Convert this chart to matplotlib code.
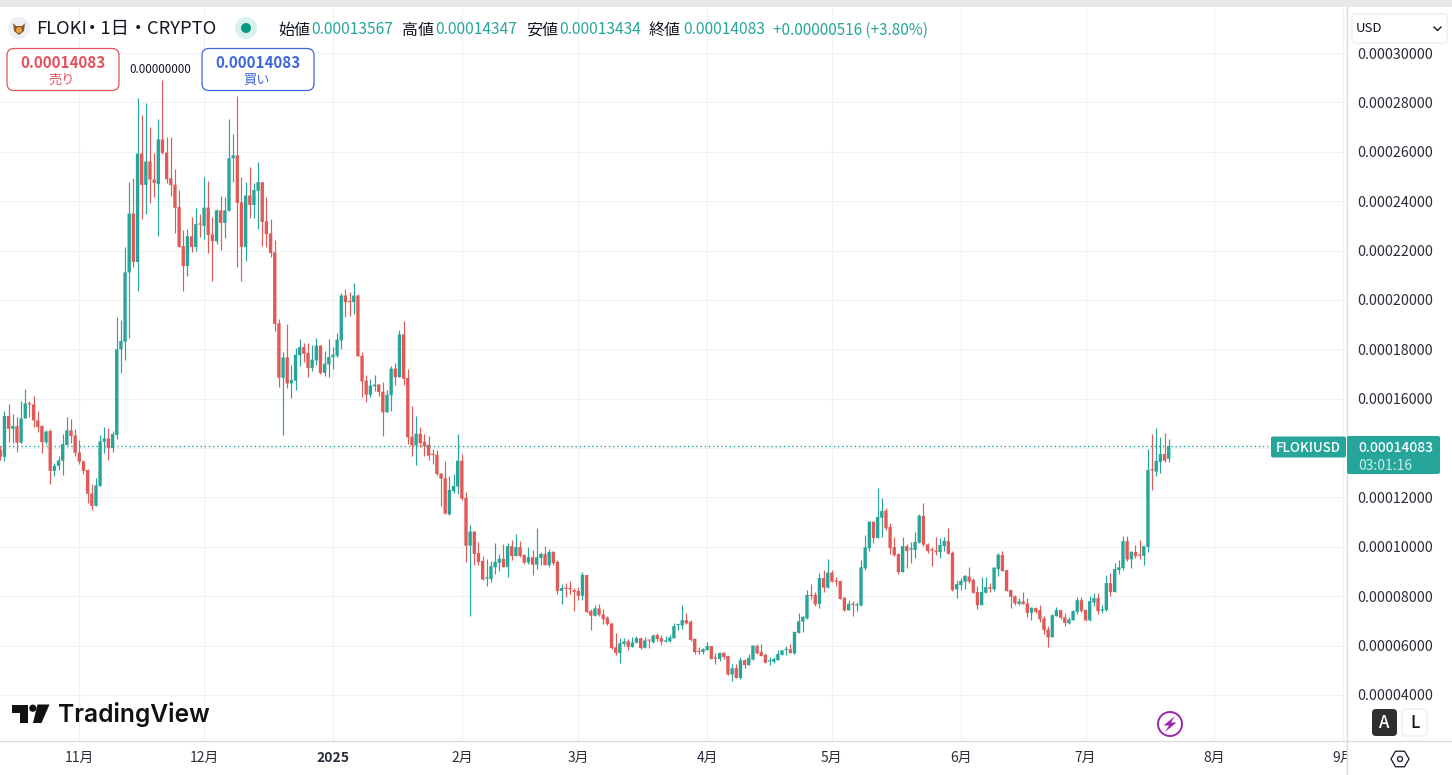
#!/usr/bin/env python3
# FLOKI / USD daily candles, TradingView style
import numpy as np
import pandas as pd
import matplotlib
matplotlib.use("Agg")
from matplotlib import pyplot as plt
from matplotlib import dates as mdates
from matplotlib.patches import FancyBboxPatch, Circle, Polygon, Rectangle, RegularPolygon
from matplotlib.lines import Line2D

plt.rcParams['font.family'] = ['Noto Sans CJK JP', 'DejaVu Sans']

# prices in units of 1e-5, one line per stretch of the chart
opens = [
    13.94,13.65,15.30,14.78,14.89,14.22,15.20,15.81,15.77,15.12,14.90,14.24,14.69,13.08,13.28,13.49,14.13,14.72,14.51,13.82,13.46,13.11,12.16,11.66,12.47,14.26,14.39,14.00,14.53,18.00,18.31,21.12,23.50,21.54,25.93,24.66,25.61,24.88,24.69,26.50,25.97,24.93,24.67,23.76,22.18,21.38,22.58,22.15,23.07,23.00,23.74,22.66,22.38,23.63,23.12,23.61,25.74,25.86,23.95,22.15,24.23,23.85,24.42,24.77,23.19,22.69,21.93,19.05,16.85,17.67,16.62,
    16.73,17.76,18.09,17.85,17.24,17.55,18.15,17.05,17.39,17.68,17.74,18.36,20.18,19.92,19.91,20.18,17.74,16.73,16.16,16.50,16.58,16.28,15.45,16.14,17.22,16.87,18.60,16.84,14.46,14.11,14.58,14.26,14.14,13.73,13.73,12.97,12.78,11.32,12.26,12.45,13.49,11.99,
    10.05,10.62,9.75,9.43,8.71,8.70,9.17,9.36,9.51,9.18,10.03,9.63,9.99,9.67,9.37,9.58,9.28,9.55,9.71,9.26,9.80,9.39,8.22,8.32,8.29,8.25,8.21,8.02,8.86,7.40,7.21,7.51,7.26,7.13,6.90,5.93,5.70,6.07,6.18,5.95,6.12,6.30,5.91,6.21,6.14,6.43,6.30,6.16,6.18,6.30,6.83,6.82,7.03,
    6.97,6.28,5.75,5.74,5.82,5.98,5.48,5.46,5.71,5.58,4.83,5.09,4.69,5.41,5.21,5.44,5.98,5.74,5.62,5.36,5.35,5.41,5.63,5.82,5.85,5.69,6.52,6.97,7.10,8.02,8.05,7.69,8.74,8.35,8.96,8.60,8.62,7.94,7.43,7.67,7.62,7.62,
    9.13,9.95,11.02,10.36,11.18,11.47,10.80,9.99,9.71,8.98,10.03,9.89,9.87,10.17,11.25,10.10,9.86,9.83,9.79,10.03,10.24,9.76,8.28,8.45,8.59,8.80,8.66,8.17,7.64,8.14,8.36,8.28,9.10,9.67,9.06,
    8.25,8.00,7.69,7.79,7.71,7.33,7.52,7.44,7.10,6.65,6.34,7.19,7.44,7.15,6.90,7.03,7.37,7.84,7.45,7.03,7.75,7.92,7.42,7.44,8.53,8.17,9.06,9.14,10.23,9.50,9.79,9.67,9.64,10.00,13.11,13.05,13.44,13.76,13.57,
]
highs = [
    14.10,15.50,15.77,15.40,15.24,15.92,16.38,15.92,16.09,15.49,14.93,14.73,14.77,13.39,13.66,14.57,15.26,15.17,14.77,14.32,13.51,13.15,12.54,12.77,14.53,14.85,14.81,14.70,19.30,19.19,22.15,24.76,24.92,28.20,27.49,27.96,26.99,25.97,27.31,28.90,26.61,26.58,25.30,24.47,22.82,22.87,23.36,23.74,23.50,24.96,24.80,23.36,23.67,24.23,24.17,27.31,26.72,28.26,24.98,24.76,25.39,24.74,25.57,24.77,24.15,23.27,22.42,19.22,17.89,19.03,17.36,
    18.05,18.42,18.26,18.26,18.19,18.46,18.19,17.95,18.42,18.09,18.66,20.28,20.45,20.32,20.69,20.26,17.88,16.96,16.80,16.97,16.61,16.68,16.34,17.34,17.45,18.80,19.16,17.20,15.72,15.31,14.85,14.58,14.51,13.97,13.93,13.01,13.49,12.85,12.96,14.58,13.77,12.24,
    10.89,10.66,10.21,9.63,9.49,9.43,10.14,9.71,10.12,10.14,10.28,10.52,10.24,9.71,10.01,9.87,10.75,9.79,10.03,9.90,9.84,9.47,8.49,8.52,8.60,8.32,8.36,8.97,8.86,7.47,7.63,7.68,7.47,7.20,6.90,6.53,6.29,6.32,6.25,6.33,6.40,6.33,6.33,6.21,6.47,6.51,6.41,6.39,6.43,6.90,6.87,7.64,7.33,
    7.04,6.28,5.96,5.92,6.14,5.98,5.71,5.74,5.75,5.58,5.25,5.25,5.55,5.47,5.66,6.04,6.06,6.06,5.69,5.52,5.54,5.82,5.81,6.00,6.06,6.56,7.32,7.20,8.25,8.50,8.19,8.96,9.06,9.51,9.06,8.77,8.62,7.98,7.83,7.81,7.75,9.47,
    10.48,11.06,11.02,12.37,11.97,11.56,10.95,10.39,9.74,10.39,10.10,10.21,10.60,11.33,11.76,10.14,9.98,10.40,10.34,10.40,10.76,9.84,8.66,8.72,8.87,9.17,8.75,8.41,8.76,8.76,8.55,9.17,9.76,9.83,9.06,
    8.28,8.05,7.92,8.19,7.92,7.57,7.57,7.63,7.21,6.79,7.27,7.57,7.46,7.34,7.17,7.46,7.95,7.95,7.45,8.00,8.15,8.15,7.64,8.86,8.94,9.33,9.46,10.44,10.46,9.83,10.07,10.28,10.03,13.96,14.57,14.80,14.44,14.60,14.35,
]
lows = [
    13.50,13.49,14.24,14.19,13.85,14.22,15.20,15.27,14.84,14.66,13.81,14.16,12.55,12.88,13.11,12.90,14.13,14.22,13.69,13.35,12.96,11.78,11.50,11.66,12.47,13.81,13.53,13.85,14.35,17.05,17.57,18.45,21.34,20.38,23.28,23.50,23.93,24.17,22.59,25.90,24.74,24.22,22.71,22.15,20.38,20.96,21.95,21.99,22.55,22.46,21.90,20.77,22.28,22.01,22.51,23.61,24.78,21.34,20.77,21.58,23.32,23.32,22.88,22.19,22.15,21.73,18.76,16.49,14.53,16.42,16.04,
    16.34,17.31,17.47,16.86,17.11,17.38,17.00,16.91,16.86,17.22,17.69,18.03,19.30,19.34,19.45,17.72,16.05,15.85,16.05,16.30,16.09,14.51,15.45,15.51,16.54,16.87,16.57,14.18,13.70,13.30,14.03,13.66,13.53,13.36,12.92,11.64,11.35,11.29,12.20,12.15,11.88,9.40,
    7.21,9.26,9.26,8.66,8.43,8.59,8.90,9.03,9.18,8.79,9.47,9.63,9.57,9.30,9.30,8.86,9.10,9.26,9.26,9.20,9.26,8.09,7.68,7.98,8.09,7.41,7.85,7.85,7.33,6.63,7.21,7.20,6.87,6.82,5.87,5.63,5.30,5.99,5.82,5.95,6.09,5.87,5.91,5.91,6.09,6.18,6.02,6.16,6.16,6.29,6.63,6.67,6.86,
    6.19,5.66,5.66,5.66,5.82,5.44,5.25,5.39,5.46,4.81,4.56,4.69,4.66,5.08,5.21,5.41,5.66,5.58,5.28,5.21,5.29,5.41,5.63,5.62,5.70,5.65,6.52,6.56,7.08,7.89,7.62,7.51,8.16,8.35,8.56,8.43,7.87,7.40,7.43,7.20,7.42,7.62,
    9.06,9.83,10.17,10.36,10.39,10.68,9.71,9.63,8.90,8.98,9.14,9.36,9.53,10.17,10.05,9.76,9.24,9.66,9.56,9.84,9.72,8.21,7.94,8.25,8.30,8.55,8.12,7.49,7.64,8.12,8.18,8.22,8.82,9.02,8.21,
    7.53,7.65,7.64,7.68,7.14,7.03,7.33,6.96,6.46,5.94,6.34,7.19,7.07,6.80,6.87,7.03,7.30,7.38,6.99,7.00,7.60,7.29,7.33,7.41,8.00,8.17,8.90,9.06,9.42,9.13,9.53,9.49,9.26,9.79,12.30,12.87,13.00,13.44,13.43,
]
closes = [
    13.65,15.30,14.78,14.89,14.22,15.20,15.81,15.76,15.12,14.86,14.24,14.67,13.08,13.28,13.50,14.16,14.72,14.49,13.81,13.45,13.08,12.15,11.66,12.49,14.27,14.39,14.00,14.57,18.00,18.34,21.12,23.50,21.54,25.93,24.66,25.61,24.88,24.74,26.50,25.96,24.89,24.65,23.73,22.15,21.38,22.58,22.15,23.07,23.05,23.74,22.63,22.38,23.63,23.12,23.63,25.74,25.86,23.93,22.15,24.23,23.85,24.45,24.77,23.16,22.67,21.90,19.03,16.85,17.67,16.62,16.76,
    17.78,18.09,17.82,17.24,17.58,18.15,17.04,17.42,17.69,17.78,18.39,20.18,19.91,19.91,20.18,17.72,16.70,16.16,16.53,16.57,16.27,15.45,16.16,17.22,16.87,18.60,16.81,14.43,14.11,14.58,14.20,14.08,13.69,13.72,12.95,12.76,11.35,12.31,12.47,13.49,11.95,10.05,
    10.62,9.71,9.39,8.68,8.72,9.22,9.39,9.52,9.18,10.03,9.63,9.99,9.63,9.36,9.58,9.28,9.58,9.71,9.26,9.79,9.34,8.21,8.33,8.30,8.28,8.18,8.02,8.86,7.36,7.21,7.51,7.25,7.07,6.87,5.90,5.70,6.10,6.17,5.95,6.13,6.30,5.90,6.21,6.20,6.41,6.27,6.16,6.21,6.33,6.79,6.83,7.03,6.90,
    6.23,5.74,5.74,5.86,5.98,5.46,5.47,5.70,5.54,4.83,5.08,4.69,5.41,5.21,5.50,6.00,5.69,5.58,5.31,5.38,5.46,5.66,5.81,5.85,5.70,6.56,6.98,7.17,8.05,8.01,7.67,8.74,8.35,8.96,8.59,8.59,7.89,7.43,7.69,7.65,7.64,9.17,
    9.98,11.02,10.36,11.21,11.45,10.75,9.95,9.66,8.98,10.03,9.83,9.90,10.20,11.26,10.09,9.83,9.85,9.80,10.07,10.24,9.72,8.25,8.49,8.62,8.83,8.60,8.14,7.64,8.17,8.37,8.30,9.16,9.68,9.02,8.21,
    7.98,7.71,7.79,7.68,7.33,7.53,7.38,7.07,6.63,6.34,7.23,7.44,7.13,6.92,7.06,7.40,7.84,7.41,7.03,7.80,7.92,7.40,7.46,8.53,8.17,9.10,9.17,10.23,9.49,9.80,9.63,9.64,10.03,13.11,13.10,13.48,13.76,13.49,14.08,
]
first_day = "2024-10-13"
last_price = 14.083

price_ticks = [4, 6, 8, 10, 12, 14, 16, 18, 20, 22, 24, 26, 28, 30]
month_ticks = ["2024-11-01", "2024-12-01", "2025-01-01", "2025-02-01", "2025-03-01", "2025-04-01",
               "2025-05-01", "2025-06-01", "2025-07-01", "2025-08-01", "2025-09-01"]
month_labels = ["11月", "12月", "2025", "2月", "3月", "4月", "5月", "6月", "7月", "8月", "9月"]

UP = "#26a69a"
DOWN = "#e25a58"
GRID = "#f0f1f4"
BORDER = "#dadce0"
INK = "#131722"

W, H = 1452, 775
PX_DAY = 4.158      # pixels per day
PX_UNIT = 24.69     # pixels per 1e-5
PANE_R, PANE_B, PANE_T = 1346, 741, 8


def price_at(y):
    return 4 + (695 - y) / PX_UNIT


fig = plt.figure(figsize=(W / 100, H / 100), dpi=100, facecolor="white")

# candle pane
ax = fig.add_axes([0, 1 - PANE_B / H, PANE_R / W, (PANE_B - PANE_T) / H])
days = pd.date_range(first_day, periods=len(opens))
o = np.array(opens)
h = np.array(highs)
l = np.array(lows)
c = np.array(closes)
up = c >= o
colors = np.where(up, UP, DOWN)

ax.vlines(days, l, h, colors=colors, linewidth=0.85, zorder=3)
bottoms = np.minimum(o, c)
heights = np.maximum(np.abs(c - o), 0.05)
bars = ax.bar(days, heights, bottom=bottoms, width=0.8, color=colors, linewidth=0, zorder=4)
for b in bars:
    b.set_snap(False)
ax.axhline(last_price, color=UP, linewidth=1, linestyle=(0, (1, 2)), zorder=2)

nov1 = mdates.date2num(pd.Timestamp(month_ticks[0]))
ax.set_xlim(nov1 - 79.3 / PX_DAY, nov1 + (PANE_R - 79.3) / PX_DAY)
ax.set_ylim(price_at(PANE_B), price_at(PANE_T))

ax.set_yticks(price_ticks)
ax.set_xticks(pd.to_datetime(month_ticks))
ax.set_xticklabels(month_labels, fontsize=10, color="#2a2e39")
ax.tick_params(axis="both", length=0)
ax.tick_params(axis="x", pad=7.5)
ax.tick_params(axis="y", labelleft=False)
ax.get_xticklabels()[2].set_fontweight("bold")
ax.grid(True, color=GRID, linewidth=0.75)
ax.set_axisbelow(True)
for s in ax.spines.values():
    s.set_visible(False)

# price scale, same pixel mapping but over the whole figure height
ax_r = fig.add_axes([(PANE_R + 0.5) / W, 0, 1 - (PANE_R + 0.5) / W, 1], zorder=5, facecolor="white")
ax_r.set_ylim(price_at(H), price_at(0))
ax_r.set_xlim(PANE_R, W)
ax_r.set_xticks([])
ax_r.set_yticks([])
for name, s in ax_r.spines.items():
    s.set_visible(name == "left")
s = ax_r.spines["left"]
s.set_color(BORDER)
s.set_linewidth(1)
for v in price_ticks:
    ax_r.text(1357, v - 1.5 / PX_UNIT, f"{v * 1e-5:.8f}", fontsize=10.3, color="#2a2e39", va="center", ha="left")

# header, buttons and logo are drawn in pixel coordinates
ov = fig.add_axes([0, 0, 1, 1], zorder=10, facecolor="none")
ov.set_xlim(0, W)
ov.set_ylim(H, 0)
ov.axis("off")

ov.add_patch(Rectangle((0, 0), W, 6.5, color="#e9e9ea", lw=0))
ov.add_line(Line2D([0, W], [PANE_B, PANE_B], color=BORDER, lw=1))

# symbol icon and title
ov.add_patch(Circle((19, 28), 11, color="#eef0f6", lw=0))
ov.add_patch(Polygon([(13, 23), (16, 26), (22, 26), (25, 23), (24, 31), (19, 35), (14, 31)], color="#8a5a2b", lw=0))
ov.add_patch(Circle((19, 30), 3, color="#e9a23b", lw=0))
ov.text(36, 29, "FLOKI", fontsize=13.2, color=INK, va="center")
ov.text(83, 29, "・1日・", fontsize=13.2, color=INK, va="center")
ov.text(147, 29, "CRYPTO", fontsize=13.2, color=INK, va="center")
ov.add_patch(Circle((246, 28), 11, color="#d9f0ec", lw=0))
ov.add_patch(Circle((246, 28), 5, color="#089981", lw=0))

# OHLC readout
for x, lab, xv, val in [(278, "始値", 311, "0.00013567"), (402, "高値", 435, "0.00014347"),
                        (526, "安値", 559, "0.00013434"), (649, "終値", 683, "0.00014083")]:
    ov.text(x, 30, lab, fontsize=11.5, color=INK, va="center")
    ov.text(xv, 29.5, val, fontsize=11.2, color=UP, va="center")
ov.text(773, 30.5, "+0.00000516 (+3.80%)", fontsize=10.95, color=UP, va="center")

# sell / buy boxes
for x0, col, txt in [(7, "#e5505c", "売り"), (202, "#3f66dd", "買い")]:
    ov.add_patch(FancyBboxPatch((x0, 48.5), 112, 42, boxstyle="round,pad=0,rounding_size=7",
                                fc="white", ec=col, lw=0.9))
    ov.text(x0 + 56, 63, "0.00014083", fontsize=10.9, color=col, weight="bold", ha="center", va="center")
    ov.text(x0 + 55, 80, txt, fontsize=9.5, color=col, ha="center", va="center")
ov.text(160.5, 69.5, "0.00000000", fontsize=8.4, color=INK, ha="center", va="center")

# currency selector
ov.add_patch(FancyBboxPatch((1352, 14), 95, 29, boxstyle="round,pad=0,rounding_size=3",
                            fc="white", ec="#eceef1", lw=1))
ov.text(1356, 29, "USD", fontsize=9.5, color=INK, va="center")
ov.add_line(Line2D([1434, 1437.5, 1441], [27, 30.5, 27], color=INK, lw=1))

# last price labels
ov.add_patch(FancyBboxPatch((1271, 436.5), 75, 21, boxstyle="round,pad=0,rounding_size=2", fc=UP, ec="none"))
ov.text(1308, 448, "FLOKIUSD", fontsize=9.6, color="white", weight="medium", ha="center", va="center")
ov.add_patch(FancyBboxPatch((1347, 436), 93, 38, boxstyle="round,pad=0,rounding_size=2", fc=UP, ec="none"))
ov.text(1358, 448, "0.00014083", fontsize=10, color="white", weight="medium", va="center")
ov.text(1358, 466, "03:01:16", fontsize=10, color="#c9ebe7", va="center")

# TradingView logo
ov.add_patch(Polygon([(12, 704.5), (28, 704.5), (28, 723), (19.5, 723), (19.5, 713), (12, 713)], color="#111111", lw=0))
ov.add_patch(Circle((32.8, 708.2), 3.6, color="#111111", lw=0))
ov.add_patch(Polygon([(37.5, 704.5), (49.5, 704.5), (41.5, 723), (33, 723)], color="#111111", lw=0))
ov.text(58, 714.5, "TradingView", fontsize=17.7, family="Inter", weight="semibold", color="#111111", va="center")

# lightning icon
ov.add_patch(Circle((1170, 724), 12, fc="white", ec="#9c27b0", lw=1.4))
ov.add_patch(Polygon([(1175, 716), (1163.5, 725.5), (1169, 725.5), (1165, 732), (1176.5, 722.5), (1171, 722.5)],
                     color="#9c27b0", lw=0))

# auto / log buttons
ov.add_patch(FancyBboxPatch((1372, 709), 25, 27, boxstyle="round,pad=0,rounding_size=4", fc="#2e2e2e", ec="none"))
ov.text(1384.5, 722.5, "A", fontsize=12, color="white", weight="medium", ha="center", va="center")
ov.add_patch(FancyBboxPatch((1402, 709), 25, 27, boxstyle="round,pad=0,rounding_size=4", fc="white", ec="#eeeff2", lw=1))
ov.text(1414.5, 722.5, "L", fontsize=12, color=INK, weight="medium", ha="center", va="center")

# settings icon
ov.add_patch(RegularPolygon((1400, 759), 6, radius=9, orientation=np.pi / 6, fc="white", ec=INK, lw=0.9))
ov.add_patch(Circle((1400, 759), 2.5, fc="white", ec=INK, lw=0.9))

fig.savefig("out.png", dpi=100)
